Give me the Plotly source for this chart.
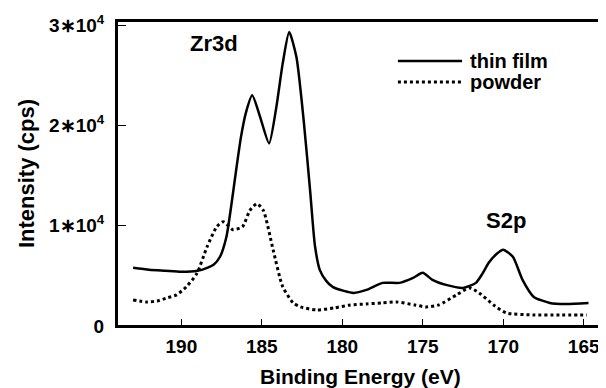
import plotly.graph_objects as go

# Binding energy (eV) and intensity (cps)
film_be = [193.0, 192.0, 191.0, 190.0, 189.0, 188.4, 188.0, 187.6, 187.2, 186.9, 186.6, 186.3,
           186.0, 185.6, 185.1, 184.55, 184.1, 183.7, 183.3, 182.85, 182.4, 182.0, 181.7, 181.4,
           181.0, 180.6, 179.9, 179.3, 178.5, 177.5, 176.45, 175.6, 175.0, 174.4, 173.55, 172.5,
           171.7, 171.3, 170.9, 170.4, 170.0, 169.4, 168.8, 168.1, 167.1, 166.1, 164.7]
film_int = [5800, 5600, 5500, 5400, 5500, 5800, 6100, 6900, 8900, 12000, 15500, 18800,
            21200, 23000, 20800, 18200, 21800, 26200, 29300, 26800, 20500, 13500, 8000, 5600,
            4500, 3900, 3500, 3300, 3600, 4300, 4300, 4800, 5300, 4600, 4100, 3800,
            4300, 5200, 6300, 7200, 7600, 6900, 4600, 2900, 2300, 2200, 2300]

powder_be = [193.0, 192.2, 191.5, 190.9, 190.3, 189.7, 189.05, 188.4, 187.8, 187.4, 186.8, 186.2,
             185.75, 185.3, 184.9, 184.3, 183.7, 183.05, 182.6, 181.6, 180.5, 179.5, 178.5, 177.5,
             176.65, 175.5, 174.8, 174.0, 172.9, 172.1, 171.5, 170.6, 169.8, 168.1, 166.5, 164.8]
powder_int = [2600, 2400, 2500, 2800, 3100, 3900, 5200, 7900, 9900, 10400, 9600, 9900,
              11500, 12200, 11500, 7600, 3900, 2300, 1900, 1600, 1800, 2100, 2200, 2300,
              2400, 2100, 1900, 2100, 3100, 3800, 3300, 2100, 1300, 1100, 1100, 1100]

x_ticks = [190, 185, 180, 175, 170, 165]
y_ticks = [0, 10000, 20000, 30000]
y_ticktext = ["0", "1∗10<sup>4</sup>", "2∗10<sup>4</sup>", "3∗10<sup>4</sup>"]

series_names = ["thin film", "powder"]
peak_labels = ["Zr3d", "S2p"]
x_title = "Binding Energy (eV)"
y_title = "Intensity (cps)"

FONT = "Liberation Sans, Arial, Helvetica, sans-serif"

fig = go.Figure()
fig.add_trace(go.Scatter(x=film_be, y=film_int, mode="lines", name=series_names[0],
                         showlegend=False,
                         line=dict(color="black", width=2.5, shape="spline", smoothing=0.6)))
fig.add_trace(go.Scatter(x=powder_be, y=powder_int, mode="lines", name=series_names[1],
                         showlegend=False,
                         line=dict(color="black", width=3, dash="dot", shape="spline", smoothing=0.6)))

# peak labels
fig.add_annotation(x=188.0, y=28200, text=f"<b>{peak_labels[0]}</b>", showarrow=False,
                   font=dict(family=FONT, size=22, color="black"))
fig.add_annotation(x=169.8, y=10500, text=f"<b>{peak_labels[1]}</b>", showarrow=False,
                   font=dict(family=FONT, size=22, color="black"))

# legend (drawn in paper coordinates)
legend_rows = [(0.869, "solid"), (0.800, "dot")]
for (ly, dash), name in zip(legend_rows, series_names):
    fig.add_shape(type="line", xref="paper", yref="paper", x0=0.578, x1=0.710, y0=ly, y1=ly,
                  line=dict(color="black", width=2.5 if dash == "solid" else 3, dash=dash))
    fig.add_annotation(xref="paper", yref="paper", x=0.722, y=ly, xanchor="left", yanchor="middle",
                       text=f"<b>{name}</b>", showarrow=False, height=20, valign="middle",
                       font=dict(family=FONT, size=20, color="black"))

# plot frame
fig.add_shape(type="rect", xref="paper", yref="paper", x0=0, x1=1, y0=0, y1=1,
              line=dict(color="black", width=2), fillcolor="rgba(0,0,0,0)", layer="above")

# x axis title
fig.add_annotation(xref="paper", yref="paper", x=0.5, y=-0.165, xanchor="center", yanchor="middle",
                   text=f"<b>{x_title}</b>", showarrow=False,
                   font=dict(family=FONT, size=21, color="black"))

# page body adds an 8px offset, so the figure is 8px smaller on each side
fig.update_layout(
    width=598, height=380,
    margin=dict(l=109, r=3, t=13, b=62),
    paper_bgcolor="white", plot_bgcolor="white",
    font=dict(family=FONT, color="black"),
    showlegend=False,
)
fig.update_xaxes(range=[194, 163.8], tickvals=x_ticks, ticktext=[f"<b>{v}</b>" for v in x_ticks],
                 ticks="inside", ticklen=7, tickwidth=1, tickcolor="black",
                 showline=True, linecolor="black", linewidth=2, mirror=True,
                 showgrid=False, zeroline=False, automargin=False, ticklabelstandoff=2,
                 tickfont=dict(family=FONT, size=19))
fig.update_yaxes(range=[0, 30400], tickvals=y_ticks, ticktext=[f"<b>{t}</b>" for t in y_ticktext],
                 ticks="inside", ticklen=9, tickwidth=1, tickcolor="black",
                 showline=True, linecolor="black", linewidth=2, mirror=True,
                 showgrid=False, zeroline=False, automargin=False, ticklabelstandoff=7,
                 tickfont=dict(family=FONT, size=19),
                 title=dict(text=f"<b>{y_title}</b>", font=dict(family=FONT, size=22), standoff=8))

fig.write_html("out.html")
